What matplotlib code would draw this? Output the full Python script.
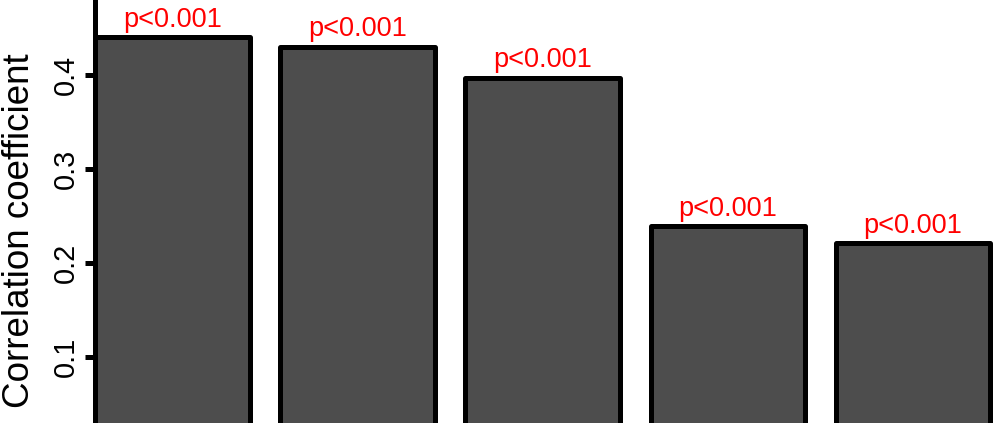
import matplotlib.pyplot as plt

plt.rcParams['font.family'] = ['Liberation Sans', 'DejaVu Sans']

# Data
groups = ['A', 'B', 'C', 'D', 'E']
coef = [0.440, 0.430, 0.397, 0.239, 0.221]
pvals = ['p<0.001', 'p<0.001', 'p<0.001', 'p<0.001', 'p<0.001']
yticks = [0.1, 0.2, 0.3, 0.4]

W, H = 995, 423
fig = plt.figure(figsize=(W / 100, H / 100), dpi=100)

# axes run off the bottom and right of the canvas (cropped figure)
ax = fig.add_axes([95.5 / W, 0, 1 - 95.5 / W, 1])

x = list(range(len(groups)))
width = 1 / 1.2
ax.bar(x, coef, width=width, color='#4d4d4d', edgecolor='black',
       linewidth=3.6, joinstyle='round')

for xi, v, p in zip(x, coef, pvals):
    ax.text(xi, v + 0.0112, p, ha='center', va='baseline', color='#ff0000', fontsize=19.5)

ax.set_xlim(-width / 2, -width / 2 + (W - 95.5) / 185)
ax.set_ylim(0.0298, 0.4798)

ax.set_yticks(yticks)
ax.set_yticklabels([f'{t:.1f}' for t in yticks], rotation=90, va='center')
ax.tick_params(axis='y', length=7, width=3.6, labelsize=20.8, pad=4)
ax.set_xticks([])

for s in ['top', 'right', 'bottom']:
    ax.spines[s].set_visible(False)
ax.spines['left'].set_linewidth(3.6)

fig.text(2 / W, 1 - 231 / H, 'Correlation coefficient', rotation=90,
         ha='left', va='center', fontsize=26.5)

plt.savefig('out.png', dpi=100)
